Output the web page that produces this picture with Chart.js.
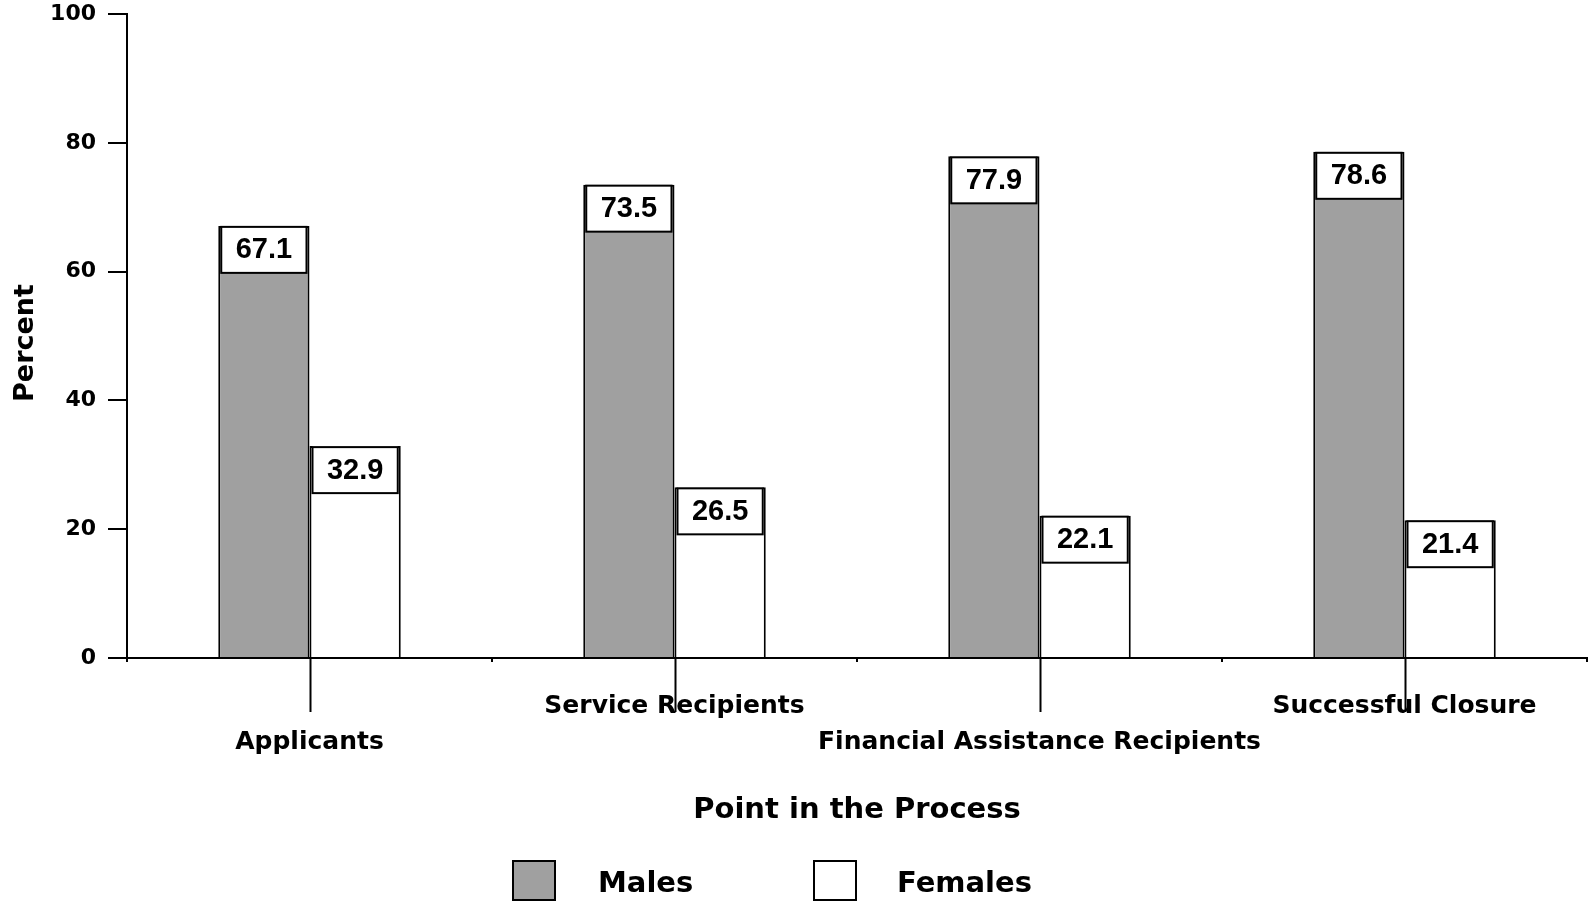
<!DOCTYPE html>
<html>
<head>
<meta charset="utf-8">
<script src="https://cdn.jsdelivr.net/npm/chart.js@4.4.0/dist/chart.umd.min.js"></script>
<style>
html,body{margin:0;padding:0;background:#fff;}
#wrap{width:1590px;height:906px;position:relative;}
</style>
</head>
<body>
<div id="wrap"><canvas id="c" width="1590" height="906"></canvas></div>
<script>
const categories = ['Applicants', 'Service Recipients', 'Financial Assistance Recipients', 'Successful Closure'];
const males = [67.1, 73.5, 77.9, 78.6];
const females = [32.9, 26.5, 22.1, 21.4];
const yTicks = [0, 20, 40, 60, 80, 100];
const seriesNames = ['Males', 'Females'];
const xTitle = 'Point in the Process';
const yTitle = 'Percent';

const TXT = '"Liberation Sans", Arial, sans-serif';
const WIDE = '"DejaVu Sans", sans-serif';

const overlay = {
  id: 'overlay',
  afterDatasetsDraw(chart) {
    const ctx = chart.ctx;
    const x = chart.scales.x, y = chart.scales.y;
    const base = y.getPixelForValue(0);
    ctx.save();
    // long ticks at category centres
    ctx.strokeStyle = '#000';
    ctx.lineWidth = 2;
    categories.forEach((c, i) => {
      const px = Math.round(x.getPixelForValue(i)) + 0.5;
      ctx.beginPath();
      ctx.moveTo(px, base);
      ctx.lineTo(px, base + 54);
      ctx.stroke();
    });
    // value boxes
    chart.data.datasets.forEach((ds, d) => {
      const meta = chart.getDatasetMeta(d);
      meta.data.forEach((bar, i) => {
        const l = bar.x - bar.width / 2 + 3;
        const r = bar.x + bar.width / 2 - 3;
        const t = bar.y;
        const h = 47;
        ctx.fillStyle = '#fff';
        ctx.fillRect(l, t, r - l, h);
        ctx.strokeStyle = '#000';
        ctx.lineWidth = 2;
        ctx.strokeRect(l, t + 1, r - l, h - 1);
        ctx.fillStyle = '#000';
        ctx.font = 'bold 29px ' + TXT;
        ctx.textAlign = 'center';
        ctx.textBaseline = 'middle';
        ctx.fillText(ds.data[i].toFixed(1), (l + r) / 2, t + h / 2 + 1);
      });
    });
    // category labels (staggered)
    ctx.fillStyle = '#000';
    ctx.font = 'bold 25px ' + WIDE;
    ctx.textAlign = 'center';
    ctx.textBaseline = 'middle';
    categories.forEach((c, i) => {
      const px = x.getPixelForValue(i);
      const py = (i % 2 === 0) ? base + 84 : base + 48;
      ctx.fillText(c, px, py);
    });
    // x title
    ctx.font = 'bold 29px ' + WIDE;
    ctx.fillText(xTitle, (chart.chartArea.left + chart.chartArea.right) / 2, 810);
    // y title
    ctx.save();
    ctx.translate(26, 343);
    ctx.rotate(-Math.PI / 2);
    ctx.font = 'bold 27px ' + WIDE;
    ctx.fillText(yTitle, 0, 0);
    ctx.restore();
    // legend
    const legendX = [512, 813];
    const textX = [598, 897];
    chart.data.datasets.forEach((ds, d) => {
      ctx.fillStyle = ds.backgroundColor;
      ctx.fillRect(legendX[d], 860, 44, 41);
      ctx.strokeStyle = '#000';
      ctx.lineWidth = 2;
      ctx.strokeRect(legendX[d] + 1, 861, 42, 39);
      ctx.fillStyle = '#000';
      ctx.font = 'bold 29px ' + WIDE;
      ctx.textAlign = 'left';
      ctx.textBaseline = 'middle';
      ctx.fillText(ds.label, textX[d], 884);
    });
    ctx.restore();
  }
};

new Chart(document.getElementById('c'), {
  type: 'bar',
  data: {
    labels: categories,
    datasets: [
      { label: seriesNames[0], data: males, backgroundColor: '#a0a0a0', borderColor: '#000', borderWidth: 2, borderSkipped: 'bottom' },
      { label: seriesNames[1], data: females, backgroundColor: '#ffffff', borderColor: '#000', borderWidth: 2, borderSkipped: 'bottom' }
    ]
  },
  options: {
    responsive: false,
    animation: false,
    devicePixelRatio: 1,
    layout: { padding: { left: 0, right: 3, top: 14, bottom: 0 } },
    plugins: { legend: { display: false }, tooltip: { enabled: false } },
    datasets: { bar: { barPercentage: 1.0, categoryPercentage: 0.5 } },
    scales: {
      x: {
        offset: true,
        grid: { display: true, drawOnChartArea: false, drawTicks: true, tickLength: 4, color: '#000', lineWidth: 2 },
        border: { display: true, color: '#000', width: 2 },
        ticks: { display: false },
        afterFit(s) { s.height = 248; s.paddingLeft = 0; s.paddingRight = 0; }
      },
      y: {
        min: 0, max: 100,
        afterBuildTicks(s) { s.ticks = yTicks.map(v => ({ value: v })); },
        grid: { display: true, drawOnChartArea: false, drawTicks: true, tickLength: 19, color: '#000', lineWidth: 2 },
        border: { display: true, color: '#000', width: 2 },
        ticks: { color: '#000', padding: 12, font: { family: WIDE, weight: 'bold', size: 22 } },
        afterFit(s) { s.width = 127; s.paddingTop = 0; s.paddingBottom = 0; }
      }
    }
  },
  plugins: [overlay]
});
</script>
</body>
</html>
